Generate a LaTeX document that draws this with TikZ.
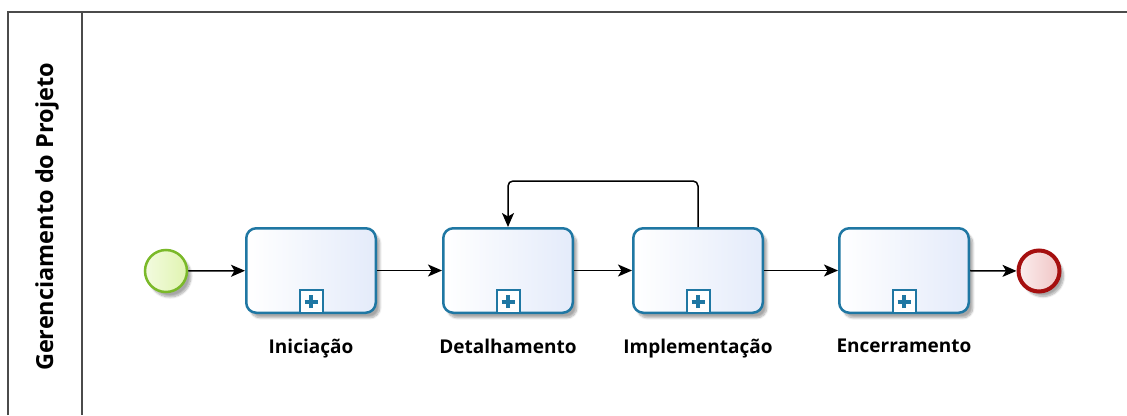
\documentclass[tikz,border=0pt]{standalone}
\usepackage{fontspec}
\setmainfont{Open Sans}
\usetikzlibrary{arrows.meta, positioning, shadows.blur}
\definecolor{taskBlue}{RGB}{31,119,163}
\definecolor{taskFill}{RGB}{228,235,250}
\definecolor{startGreen}{RGB}{122,185,41}
\definecolor{startFill}{RGB}{224,244,176}
\definecolor{endRed}{RGB}{165,15,15}
\definecolor{endFill}{RGB}{240,196,196}
\definecolor{laneGray}{RGB}{75,75,75}
\tikzset{
  softshadow/.style={blur shadow={shadow xshift=4pt, shadow yshift=-5pt, shadow blur steps=8, shadow opacity=35}},
  task/.style={draw=taskBlue, line width=2.5pt, rounded corners=10pt, minimum width=129.5pt, minimum height=84.5pt, left color=white, right color=taskFill, softshadow},
  marker/.style={draw=taskBlue, line width=2pt, fill=white, minimum size=23pt, inner sep=0pt, anchor=south,
    path picture={\draw[taskBlue, line width=4pt] (path picture bounding box.center) +(-6.5pt,0) -- +(6.5pt,0)
      (path picture bounding box.center) +(0,-6.5pt) -- +(0,6.5pt);}},
  startev/.style={circle, draw=startGreen, line width=2.5pt, minimum size=42pt, inner sep=0pt, left color=white!60!startFill, right color=startFill, softshadow},
  endev/.style={circle, draw=endRed, line width=4pt, minimum size=41pt, inner sep=0pt, left color=white!70!endFill, right color=endFill, softshadow},
  lbl/.style={font=\fontsize{19}{22}\selectfont\bfseries, inner sep=0pt, text=black},
  flow/.style={line width=1.5pt, -{Stealth[length=14pt, width=12pt, inset=3.5pt]}},
  lane/.style={laneGray, line width=2pt}
}
\begin{document}
\begin{tikzpicture}[x=1pt, y=-1pt]
		\useasboundingbox (0,0) rectangle (1127,415);
		%%%%%%%%%%%%%
		\coordinate (f1) at (8,12); \coordinate (f2) at (1127,12);
		\coordinate (f3) at (8,415); \coordinate (d1) at (82,12); \coordinate (d2) at (82,415);
		\draw [lane] (f3) -- (f1) -- (f2);
		\draw [lane] (d1) -- (d2);
		\node [font=\fontsize{23.5}{26}\selectfont\bfseries, rotate=90] (title) at (47, 217) {Gerenciamento do Projeto};
		%%%%%%%%%%%%%
		\node [startev] (start) at (166, 271) {};
		\node [task] (t1) at (311, 270.5) {};
		\node [task] (t2) at (508, 270.5) {};
		\node [task] (t3) at (698, 270.5) {};
		\node [task] (t4) at (904, 270.5) {};
		\node [endev] (end) at (1039, 271) {};
		\node [marker] (m1) at (t1.south) {}; \node [marker] (m2) at (t2.south) {};
		\node [marker] (m3) at (t3.south) {}; \node [marker] (m4) at (t4.south) {};
		\node [lbl, below=25pt of t1] (l1) {Iniciação};
		\node [lbl, below=25pt of t2] (l2) {Detalhamento};
		\node [lbl, below=25pt of t3] (l3) {Implementação};
		\node [lbl, below=25pt of t4] (l4) {Encerramento};
		%%%%%%%%%%%%%
		\draw [flow] (start) -- (t1); \draw [flow] (t1) -- (t2);
		\draw [flow] (t2) -- (t3); \draw [flow] (t3) -- (t4);
		\draw [flow] (t4) -- (end);
		\draw [flow, rounded corners=5pt] (t3.north) -- ++(0,-46) -| (t2.north);
\end{tikzpicture}
\end{document}
